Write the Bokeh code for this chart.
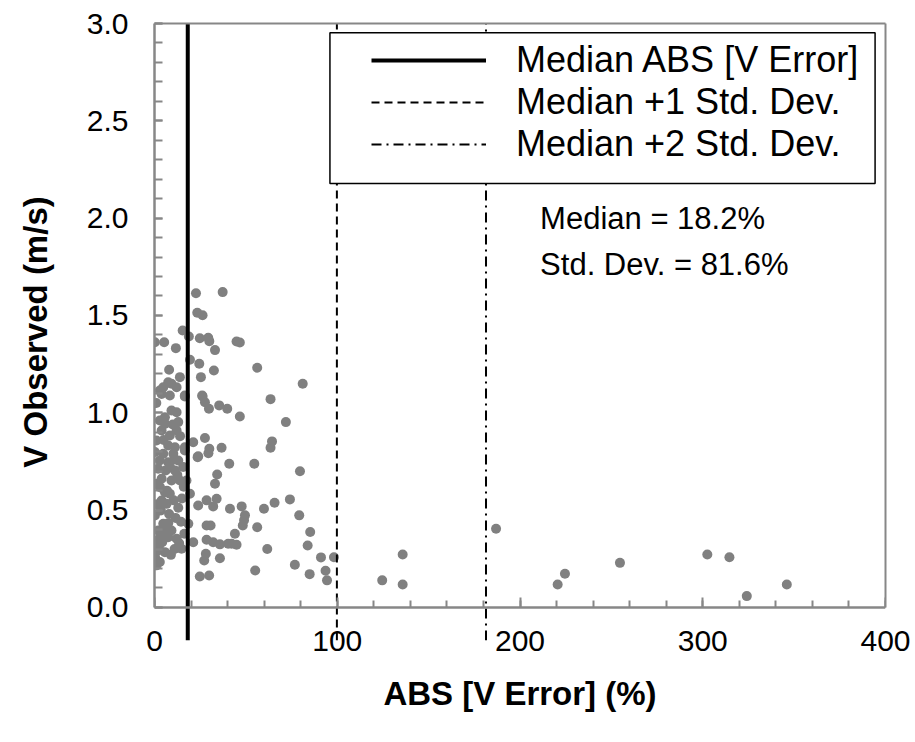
from bokeh.plotting import figure
from bokeh.models import (Range1d, SingleIntervalTicker, FixedTicker, Legend, LegendItem, Label,
                          LinearAxis, BoxAnnotation, NumeralTickFormatter, CustomJSTickFormatter)
from bokeh.embed import file_html
from bokeh.resources import INLINE

# ---- data ----
abs_v_error = [
    # far / mid points
    56.2, 81.1, 63.5, 71.9, 64.3, 63.5, 79.6, 74.1, 65.7, 59.9, 79.2, 56.2, 85.2, 83.8,
    61.7, 91.1, 98.2, 76.8, 93.6, 84.9, 94.4, 124.6, 135.8, 135.8, 186.9, 220.6, 224.6,
    254.7, 302.5, 314.6, 324.1, 346.0, 55.1, 54.6,
    # 20-50 %
    22.7, 37.3, 23.4, 26.3, 24.8, 29.4, 30.0, 33.1, 44.9, 46.7, 19.4, 24.5, 32.5, 25.4,
    26.3, 27.6, 29.8, 35.4, 39.8, 46.7, 27.6, 21.2, 30.0, 36.7, 29.5, 23.9, 40.9, 34.3,
    33.1, 19.4, 28.5, 34.0, 23.9, 32.1, 41.3, 47.7, 49.5, 49.0, 48.3, 28.5, 30.7, 44.0,
    28.5, 32.1, 35.8, 40.3, 44.9, 42.2, 21.2, 28.1, 27.2, 35.8, 24.8, 29.9, 23.6, 26.1,
    18.8, 15.4, 16.6,
    # 0-18 %
    0.2, 5.3, 11.7, 8.0, 13.9, 7.5, 9.3, 12.1, 4.8, 2.9, 3.9, 8.4, 16.6, 9.3, 12.1, 2.9,
    5.7, 13.0, 3.9, 12.1, 8.4, 1.1, 7.5, 11.2, 0.2, 4.8, 10.3, 16.6, 2.9, 7.5, 13.0, 2.0,
    6.1, 11.2, 15.7, 3.9, 9.3, 13.9, 1.1, 17.5, 5.7, 16.6, 3.0, 5.7, 8.4, 3.9, 6.6, 3.5,
    13.0, 0.2, 11.5, 4.8, 7.5, 2.0, 9.3, 0.2, 4.2, 7.5, 12.1, 14.8, 2.0, 5.7, 0.2, 2.9,
    16.3, 18.5, 1.1, 10.5, 15.0, 1.5, 8.0, 14.5, 6.0, 11.0, 9.0, 3.5, 16.0, 12.5, 8.5,
    5.0, 14.0, 10.0, 1.0, 0.5, 6.8, 10.8, 2.4, 13.5,
]
v_observed = [
    1.231, 1.149, 1.070, 0.952, 0.853, 0.820, 0.700, 0.555, 0.538, 0.507, 0.473, 0.412,
    0.387, 0.318, 0.300, 0.257, 0.258, 0.219, 0.188, 0.171, 0.139, 0.139, 0.272, 0.118,
    0.404, 0.118, 0.173, 0.229, 0.272, 0.258, 0.058, 0.118, 0.190, 0.738,
    1.614, 1.620, 1.514, 1.501, 1.383, 1.385, 1.368, 1.322, 1.366, 1.361, 1.272, 1.252,
    1.217, 1.183, 1.084, 1.054, 1.021, 1.038, 1.021, 0.981, 0.870, 0.849, 0.815, 0.820,
    0.792, 0.776, 0.738, 0.683, 0.635, 0.584, 0.550, 0.558, 0.524, 0.519, 0.507, 0.519,
    0.473, 0.448, 0.421, 0.421, 0.421, 0.378, 0.348, 0.335, 0.324, 0.327, 0.322, 0.327,
    0.335, 0.276, 0.241, 0.253, 0.159, 0.164, 0.772, 1.089, 1.392, 1.423, 1.084,
    1.362, 1.362, 1.332, 1.221, 1.183, 1.157, 1.149, 1.131, 1.131, 1.114, 1.097, 1.089,
    1.089, 1.012, 1.003, 0.960, 0.943, 0.952, 0.909, 0.909, 0.883, 0.858, 0.832, 0.823,
    0.798, 0.789, 0.789, 0.806, 0.755, 0.746, 0.755, 0.712, 0.704, 0.704, 0.721, 0.661,
    0.652, 0.652, 0.635, 0.652, 0.977, 0.823, 0.618, 0.592, 0.584, 0.549, 0.532, 0.498,
    0.512, 0.472, 0.460, 0.430, 0.433, 0.395, 0.395, 0.344, 0.335, 0.361, 0.353, 0.301,
    0.293, 0.284, 0.258, 0.233, 0.378, 0.430, 0.216, 0.550, 0.560, 0.530, 0.480, 0.440,
    0.400, 0.300, 0.270, 0.370, 0.620, 0.680, 0.720, 0.860, 0.880, 0.940, 1.050, 0.250,
    0.600, 0.760, 0.310, 0.330,
]
median_err = 18.2
std_dev = 81.6
legend_labels = ["Median ABS [V Error]", "Median +1 Std. Dev.", "Median +2 Std. Dev."]

FONT = "Liberation Sans"
GRAY = "#878787"
Y_LOW = -0.17   # room below the x axis for the reference-line tails

p = figure(width=915, height=742, x_range=Range1d(0, 400), y_range=Range1d(Y_LOW, 3),
           output_backend="svg", toolbar_location=None,
           min_border_left=154, min_border_right=30, min_border_top=23, min_border_bottom=102,
           background_fill_color="white", border_fill_color="white")
p.grid.visible = False
p.outline_line_color = None

# primary x axis (at the bottom of the frame): only labels and title
xa = p.xaxis[0]
xa.ticker = SingleIntervalTicker(interval=100, num_minor_ticks=5)
xa.axis_line_color = None
xa.major_tick_line_color = None
xa.minor_tick_line_color = None
xa.major_label_standoff = -16
xa.axis_label = "ABS [V Error] (%)"
xa.axis_label_standoff = 21

ya = p.yaxis[0]
ya.ticker = SingleIntervalTicker(interval=0.5, num_minor_ticks=5)
ya.formatter = NumeralTickFormatter(format="0.0")
ya.bounds = (0, 3)
ya.axis_line_color = GRAY
ya.axis_line_width = 2.5
ya.major_tick_line_color = GRAY
ya.minor_tick_line_color = GRAY
ya.major_tick_line_width = 2
ya.minor_tick_line_width = 2
ya.major_tick_in = 8
ya.minor_tick_in = 8
ya.major_tick_out = 0
ya.minor_tick_out = 0
ya.major_label_standoff = 26
ya.axis_label = "V Observed (m/s)"
ya.axis_label_standoff = 30

for ax in (xa, ya):
    ax.major_label_text_font = FONT
    ax.major_label_text_font_size = "30px"
    ax.major_label_text_color = "black"
    ax.axis_label_text_font = FONT
    ax.axis_label_text_font_size = "33px"
    ax.axis_label_text_font_style = "bold"
    ax.axis_label_text_color = "black"

# visible x axis line and ticks at V = 0 (labels are drawn by the primary axis)
x_line = LinearAxis(fixed_location=0, ticker=SingleIntervalTicker(interval=100, num_minor_ticks=5),
                    formatter=CustomJSTickFormatter(code="return ''"),
                    axis_line_color=GRAY, axis_line_width=2.5,
                    major_tick_line_color=GRAY, minor_tick_line_color=GRAY,
                    major_tick_line_width=2, minor_tick_line_width=2,
                    major_tick_in=10, minor_tick_in=7, major_tick_out=0, minor_tick_out=0,
                    major_label_standoff=0)
p.add_layout(x_line, "below")

# plot-area border on the top and right
for place, bounds in (("right", (0, 3)), ("above", "auto")):
    b = LinearAxis(ticker=FixedTicker(ticks=[]), bounds=bounds, axis_line_color=GRAY,
                   axis_line_width=2, major_tick_in=0, major_tick_out=0, minor_tick_in=0,
                   minor_tick_out=0)
    p.add_layout(b, place)

p.scatter(abs_v_error, v_observed, size=10, color="#808080", line_color=None)

ref_x = [median_err, median_err + std_dev, median_err + 2 * std_dev]
styles = [dict(line_width=4, line_dash="solid"),
          dict(line_width=2, line_dash="8 5"),
          dict(line_width=2, line_dash="10 5 2 5")]
rends = [p.line([xv, xv], [Y_LOW, 3], line_color="black", **st) for xv, st in zip(ref_x, styles)]

p.add_layout(Label(x=211, y=2.0, text=f"Median = {median_err}%", text_font=FONT,
                   text_font_size="31px", text_baseline="middle", text_color="black"))
p.add_layout(Label(x=211, y=1.76, text=f"Std. Dev. = {std_dev}%", text_font=FONT,
                   text_font_size="31px", text_baseline="middle", text_color="black"))

# legend frame
p.add_layout(BoxAnnotation(left=96.0, right=394.3, top=2.953, bottom=2.178,
                           fill_color="white", fill_alpha=1.0,
                           line_color="black", line_alpha=1.0, line_width=1.5))
legend = Legend(items=[LegendItem(label=lab, renderers=[r]) for lab, r in zip(legend_labels, rends)],
                location=(217, 475), padding=13, spacing=0,
                glyph_width=115, glyph_height=24, label_standoff=30,
                label_text_font=FONT, label_text_font_size="36px", label_text_color="black",
                border_line_color=None, background_fill_alpha=0.0)
p.add_layout(legend)

open("out.html", "w").write(file_html(p, INLINE))
